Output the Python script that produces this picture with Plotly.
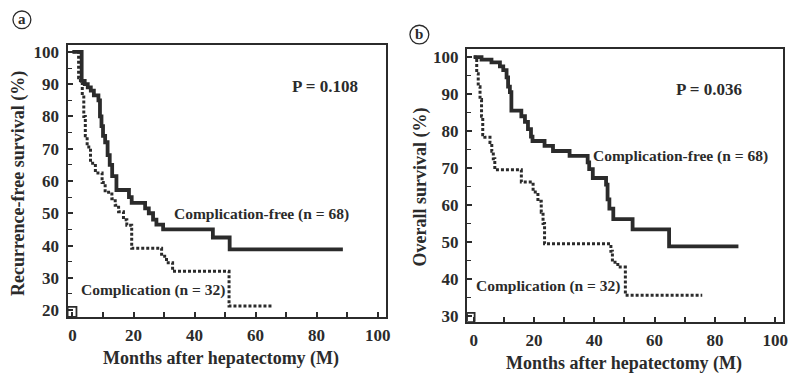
import plotly.graph_objects as go

# ---------------- data ----------------
# Panel a: recurrence-free survival (%)
a_free_t = [0, 3, 4, 5, 6, 7, 8.5, 9, 9.5, 10, 10.7, 11.5, 12.2, 13, 14.4, 17.8, 18.5, 19.4, 23.8, 25, 26.4, 27.5, 29.7, 46, 51.5, 88.6]
a_free_s = [100, 91, 90, 89, 88, 86.5, 85, 80, 77, 74, 72, 68, 65, 61.5, 57.2, 57.2, 55, 53.2, 51.5, 50, 48, 46.5, 45, 42.5, 38.8, 38.8]
a_comp_t = [0, 2, 2.6, 3.2, 3.7, 4.2, 4.8, 5.9, 7.5, 9.7, 10.7, 12.9, 14, 15.1, 16.7, 17.8, 19.4, 29.2, 30.8, 32.8, 51.3, 65.8]
a_comp_s = [100, 92, 90.5, 86, 80, 74, 70.5, 65.5, 62.5, 59.5, 56.5, 54.5, 52.5, 50.5, 48, 46.3, 39.2, 36.7, 34.7, 32, 21.3, 21.3]

# Panel b: overall survival (%)
b_free_t = [0, 2.6, 5.9, 8.7, 9.8, 10.9, 11.4, 12, 12.5, 15.8, 17, 18, 19, 19.5, 23.5, 26.3, 31.8, 37.8, 38.3, 39.5, 43.9, 44.4, 45, 46.3, 52.7, 64.8, 87.8]
b_free_s = [100, 99.3, 98.6, 97.5, 96.5, 94.5, 92, 90.5, 85.5, 84, 82.5, 80.5, 78.5, 77.3, 76, 74.6, 73.3, 71.5, 69.7, 67.3, 65.5, 61.5, 59, 56.2, 53.4, 48.8, 48.8]
b_comp_t = [0, 1, 1.5, 2.1, 2.6, 3, 3.7, 5.4, 6, 6.5, 7, 15.8, 19.7, 21.3, 22.4, 23, 23.5, 45.5, 46, 47.8, 50.3, 75.8]
b_comp_s = [100, 95.5, 92, 88.5, 84, 79, 78.3, 76.9, 74.5, 72.5, 69.5, 66.2, 63.5, 61, 58, 55, 49.5, 47.5, 44.5, 43.2, 35.6, 35.6]

x_ticks = [0, 20, 40, 60, 80, 100]
x_minor_ticks = [10, 30, 50, 70, 90]
a_y_ticks = [20, 30, 40, 50, 60, 70, 80, 90, 100]
b_y_ticks = [30, 40, 50, 60, 70, 80, 90, 100]

x_title = "Months after hepatectomy (M)"
a_y_title = "Recurrence-free survival (%)"
b_y_title = "Overall survival (%)"
free_label = "Complication-free (n = 68)"
comp_label = "Complication (n = 32)"
a_p = "P = 0.108"
b_p = "P = 0.036"

# ---------------- style ----------------
# the page body has an 8px margin, so the figure is drawn at (8, 8);
# positions below are given in window pixels and shifted accordingly
OFF = 8
W, H = 796 - OFF, 374 - OFF
FONT = "Liberation Serif, Times New Roman, serif"
INK = "#2b2b2b"
SOLID_W = 3.8
DOT_W = 3.0


def px(x):
    return (x - OFF) / W


def py(y):
    return 1 - (y - OFF) / H


fig = go.Figure()

panels = [
    dict(xa="x", ya="y", free=(a_free_t, a_free_s), comp=(a_comp_t, a_comp_s)),
    dict(xa="x2", ya="y2", free=(b_free_t, b_free_s), comp=(b_comp_t, b_comp_s)),
]
for p in panels:
    fig.add_trace(go.Scatter(x=p["free"][0], y=p["free"][1], mode="lines", line_shape="hv",
                             line=dict(color=INK, width=SOLID_W), xaxis=p["xa"], yaxis=p["ya"],
                             showlegend=False, hoverinfo="skip"))
    fig.add_trace(go.Scatter(x=p["comp"][0], y=p["comp"][1], mode="lines", line_shape="hv",
                             line=dict(color=INK, width=DOT_W, dash="3px,2px"), xaxis=p["xa"], yaxis=p["ya"],
                             showlegend=False, hoverinfo="skip"))

tickfont = dict(family=FONT, size=17, color=INK, weight="bold")


def xaxis(dom, rng, anchor):
    return dict(domain=dom, range=rng, anchor=anchor, tickvals=x_ticks, ticks="inside", ticklen=5, tickwidth=1.5,
                tickcolor=INK, showline=True, linecolor=INK, linewidth=2.2, mirror=True,
                showgrid=False, zeroline=False, tickfont=tickfont, ticklabelstandoff=2,
                minor=dict(tickvals=x_minor_ticks, ticks="inside", ticklen=5, tickwidth=1.5, tickcolor=INK))


def yaxis(dom, rng, tv, anchor):
    return dict(domain=dom, range=rng, anchor=anchor, tickvals=tv, ticks="inside", ticklen=5, tickwidth=1.5,
                tickcolor=INK, showline=True, linecolor=INK, linewidth=2.2, mirror=True,
                showgrid=False, zeroline=False, tickfont=tickfont, ticklabelstandoff=3,
                minor=dict(dtick=5, tick0=0, ticks="inside", ticklen=4, tickwidth=1.2, tickcolor=INK))


fig.update_layout(
    width=W, height=H, margin=dict(l=0, r=0, t=0, b=0),
    paper_bgcolor="white", plot_bgcolor="white",
    xaxis=xaxis([px(68), px(388)], [-1.6, 102.6], "y"),
    yaxis=yaxis([py(320), py(44)], [17.9, 102], a_y_ticks, "x"),
    xaxis2=xaxis([px(470), px(788)], [-2.2, 102.6], "y2"),
    yaxis2=yaxis([py(325), py(48)], [28.4, 102.1], b_y_ticks, "x2"),
)


def bold(s):
    return dict(family=FONT, size=s, color=INK, weight="bold")


def note(text, x, y, xref, yref, size, angle=0):
    return dict(text=text, x=x, y=y, xref=xref, yref=yref, showarrow=False, textangle=angle,
                xanchor="center", yanchor="middle", font=bold(size))


ann = [
    note(x_title, px(222), py(362), "paper", "paper", 18),
    note(x_title, px(628), py(367), "paper", "paper", 18),
    note(a_y_title, px(18), py(184), "paper", "paper", 18, -90),
    note(b_y_title, px(423), py(188), "paper", "paper", 18, -90),
    note(a_p, 82.7, 89.2, "x", "y", 17),
    note(free_label, 61.9, 49.9, "x", "y", 15.5),
    note(comp_label, 26.4, 26.1, "x", "y", 15.5),
    note(b_p, 77.9, 91.2, "x2", "y2", 17),
    note(free_label, 68.6, 73.2, "x2", "y2", 15.5),
    note(comp_label, 24.8, 38.1, "x2", "y2", 15.5),
    note("a", px(22), py(17), "paper", "paper", 15),
    note("b", px(422), py(32), "paper", "paper", 15),
]
fig.update_layout(annotations=ann)

shapes = []
for cx, cy, r in [(22, 18, 9), (422, 33, 9.5)]:
    shapes.append(dict(type="circle", xref="paper", yref="paper", x0=px(cx - r), x1=px(cx + r),
                       y0=py(cy + r), y1=py(cy - r), line=dict(color=INK, width=1.3)))
# small open squares in the lower-left corner of each frame
shapes.append(dict(type="rect", xref="x", yref="y", x0=-1.6, x1=1.3, y0=17.9, y1=21.0,
                   line=dict(color=INK, width=1.8)))
shapes.append(dict(type="rect", xref="x2", yref="y2", x0=-2.2, x1=0.3, y0=28.4, y1=30.8,
                   line=dict(color=INK, width=1.8)))
fig.update_layout(shapes=shapes)

fig.write_html("out.html")
